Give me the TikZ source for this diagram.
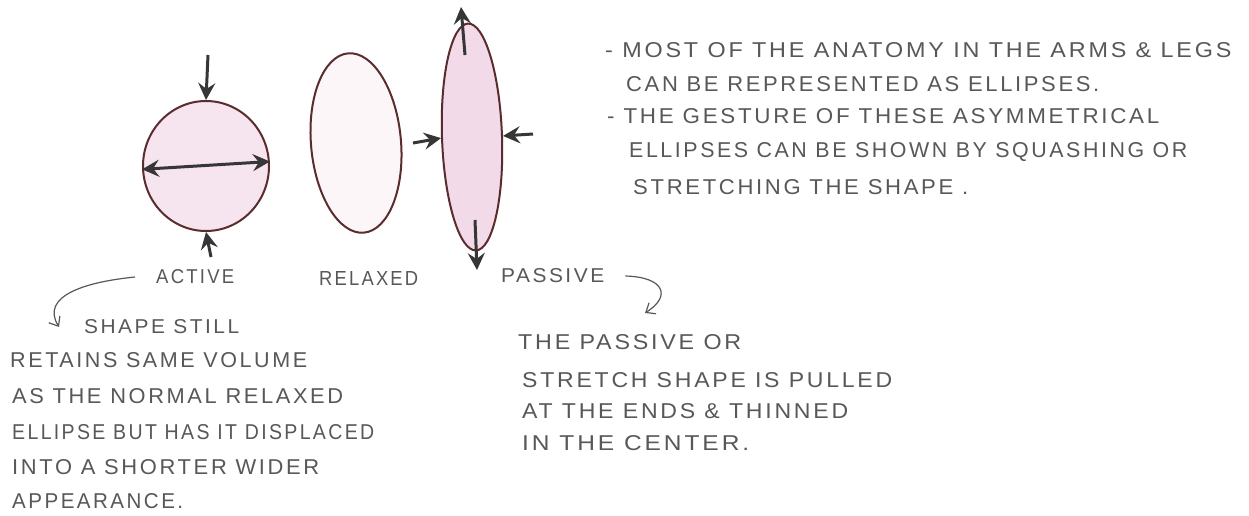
\documentclass[tikz,border=0pt]{standalone}
\usepackage{fontspec}
\usepackage{graphicx}
\newfontfamily\handfont[LetterSpace=12]{Liberation Sans}
\usetikzlibrary{arrows.meta,shapes.geometric}
\definecolor{pencil}{HTML}{585858}
\definecolor{ink}{HTML}{363636}
\definecolor{rim}{HTML}{5A2C2E}
\definecolor{pinkA}{HTML}{F6E4EE}
\definecolor{pinkB}{HTML}{FCF6F9}
\definecolor{pinkC}{HTML}{F2DAE8}
\newcommand{\hw}[3]{\resizebox{#1pt}{#2pt}{\handfont #3}}
\begin{document}
\begin{tikzpicture}[x=1pt,y=-1pt,
  txt/.style={anchor=west,inner sep=0pt,text=pencil},
  push/.style={draw=ink,line width=3pt,-{Stealth[length=17pt,width=17pt,inset=6pt]}},
  both/.style={draw=ink,line width=3pt,{Stealth[length=17pt,width=17pt,inset=6pt]}-{Stealth[length=17pt,width=17pt,inset=6pt]}},
  rimline/.style={draw=rim,line width=2pt,inner sep=0pt},
  note/.style={draw=pencil,line width=1.2pt,-{Straight Barb[length=8pt,width=13pt]}}]
\useasboundingbox (0,0) rectangle (1249,515);
\fill[white] (0,0) rectangle (1249,515);
% shapes
\node[ellipse,rimline,fill=pinkA,minimum width=126pt,minimum height=130pt] (active) at (206,166) {};
\node[ellipse,rimline,fill=pinkB,minimum width=90pt,minimum height=180pt,rotate=5] (relaxed) at (356,143) {};
\node[ellipse,rimline,fill=pinkC,minimum width=60pt,minimum height=227pt,rotate=2] (passive) at (472,137) {};
% force arrows
\coordinate (atop) at (208,55);
\coordinate (abot) at (211,257);
\draw[push] (atop) -- (active.north);
\draw[push] (abot) -- (active.south);
\draw[both] (active.183) -- (active.4);
\coordinate (pup) at (465,55);
\coordinate (puptip) at (461,7);
\coordinate (pdn) at (475,220);
\coordinate (pdntip) at (477,270);
\coordinate (pl) at (413,143);
\coordinate (pr) at (533,134);
\draw[push] (pup) -- (puptip);
\draw[push] (pdn) -- (pdntip);
\draw[push] (pl) -- (passive.west);
\draw[push] (pr) -- (passive.east);
% labels
\node[txt] (lactive) at (156,277) {\hw{78}{14}{ACTIVE}};
\node[txt] (lrelaxed) at (319,278) {\hw{99}{14}{RELAXED}};
\node[txt] (lpassive) at (501,276) {\hw{103}{14}{PASSIVE}};
% top right notes
\node[txt] (t1) at (605,50) {\hw{626}{15}{- MOST OF THE ANATOMY IN THE ARMS \& LEGS}};
\node[txt] (t2) at (626,84) {\hw{473}{15}{CAN BE REPRESENTED AS ELLIPSES.}};
\node[txt] (t3) at (607,116) {\hw{552}{15}{- THE GESTURE OF THESE ASYMMETRICAL}};
\node[txt] (t4) at (629,152) {\hw{558}{15}{ELLIPSES CAN BE SHOWN BY SQUASHING OR}};
\node[txt] (t5) at (633,187) {\hw{335}{15}{STRETCHING THE SHAPE .}};
% middle notes
\node[txt] (m1) at (518,342) {\hw{223}{15}{THE PASSIVE OR}};
\node[txt] (m2) at (522,380) {\hw{370}{15}{STRETCH SHAPE IS PULLED}};
\node[txt] (m3) at (522,411) {\hw{326}{15}{AT THE ENDS \& THINNED}};
\node[txt] (m4) at (522,443) {\hw{227}{15}{IN THE CENTER.}};
% left notes
\node[txt] (l1) at (84,327) {\hw{155}{14}{SHAPE STILL}};
\node[txt] (l2) at (10,360) {\hw{297}{15}{RETAINS SAME VOLUME}};
\node[txt] (l3) at (12,396) {\hw{331}{15}{AS THE NORMAL RELAXED}};
\node[txt] (l4) at (12,432) {\hw{362}{15}{ELLIPSE BUT HAS IT DISPLACED}};
\node[txt] (l5) at (12,467) {\hw{307}{15}{INTO A SHORTER WIDER}};
\node[txt] (l6) at (12,501) {\hw{171}{15}{APPEARANCE.}};
% annotation arrows
\draw[note] ([xshift=-21pt]lactive.west) .. controls (85,282) and (40,296) .. ([xshift=-25pt]l1.west);
\coordinate (ptip) at (645,313);
\draw[note] ([xshift=21pt]lpassive.east) .. controls (664,277) and (672,296) .. (ptip);
\end{tikzpicture}
\end{document}
